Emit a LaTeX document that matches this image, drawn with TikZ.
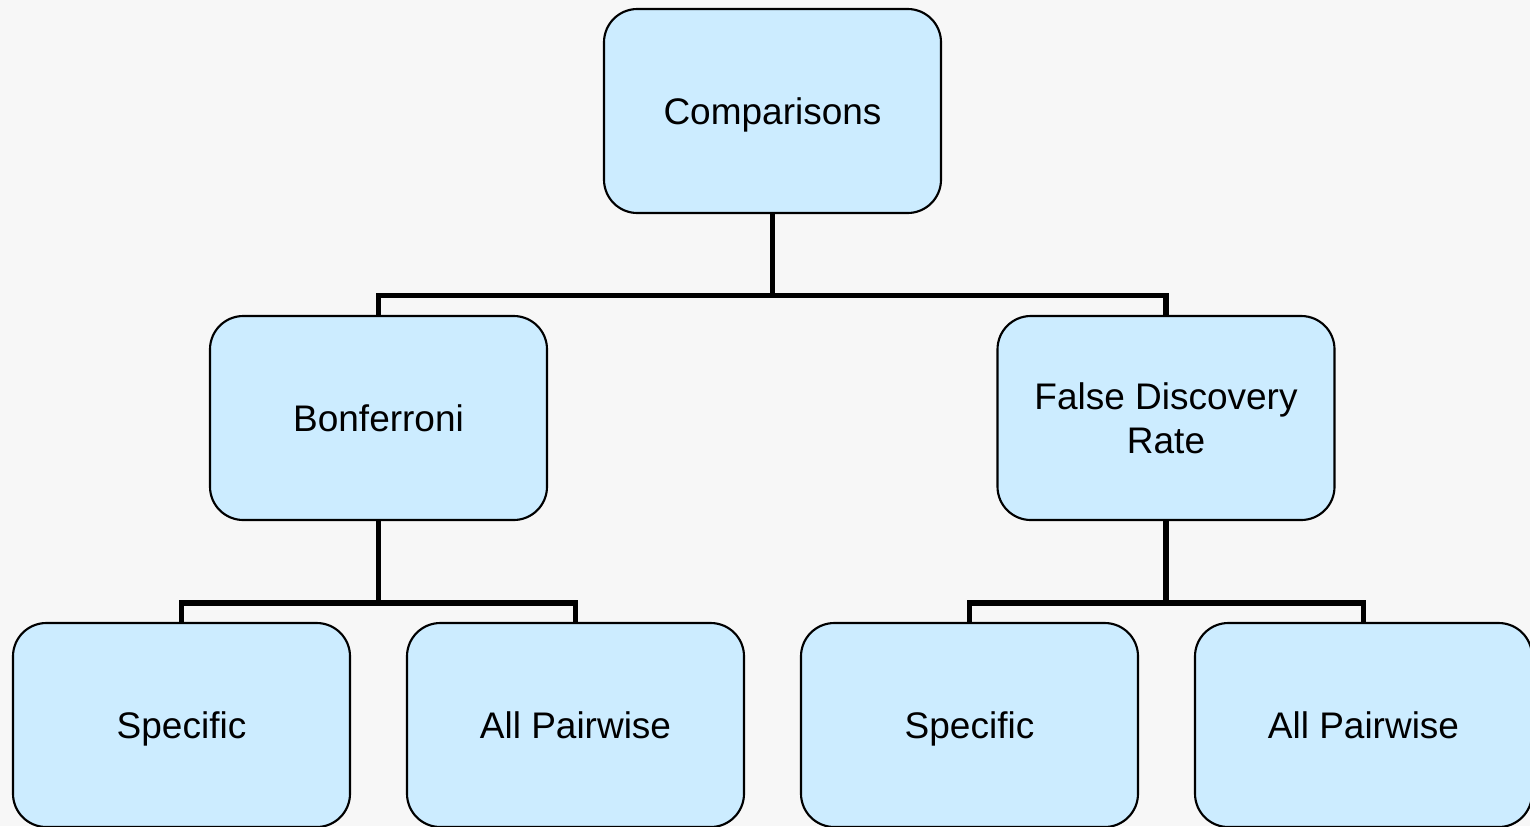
\documentclass[tikz,border=0pt]{standalone}
\usepackage{fontspec}
\setmainfont{Liberation Sans}
\definecolor{pagebg}{HTML}{F7F7F7}
\definecolor{boxfill}{HTML}{CCECFF}
\begin{document}
\begin{tikzpicture}[x=0.75pt,y=-0.75pt,
  box/.style={draw=black, line width=1.6pt, fill=boxfill, rounded corners=25pt,
    minimum width=252.75pt, minimum height=153pt, inner sep=0pt, align=center,
    font=\fontsize{27.75}{33}\selectfont},
  oneline/.style={box, text height=19.9pt, text depth=0pt},
  conn/.style={draw=black, line width=4pt, line join=miter}]
  % page background and fixed bounds
  \fill[pagebg] (0,0) rectangle (1530,826);
  \useasboundingbox (0,0) rectangle (1530,826);

  % junction points of the tree connectors
  \coordinate (j0) at (772.5,295.5);
  \coordinate (j1) at (378.5,603);
  \coordinate (j2) at (1166,603);

  % connectors (drawn first, boxes cover their ends)
  \path[conn] (772.5,111) -- (j0);
  \path[conn] (378.5,418) |- (j0) -| (1166,418);
  \path[conn] (378.5,418) -- (j1);
  \path[conn] (181.5,725) |- (j1) -| (575.5,725);
  \path[conn] (1166,418) -- (j2);
  \path[conn] (969.5,725) |- (j2) -| (1363.5,725);

  % boxes
  \node[oneline] (top) at (772.5,111) {Comparisons};
  \node[oneline] (bon) at (378.5,418) {Bonferroni};
  \node[box]     (fdr) at (1166,418) {False Discovery\\Rate};
  \node[oneline] (bs)  at (181.5,725) {Specific};
  \node[oneline] (bp)  at (575.5,725) {All Pairwise};
  \node[oneline] (fs)  at (969.5,725) {Specific};
  \node[oneline] (fp)  at (1363.5,725) {All Pairwise};
\end{tikzpicture}
\end{document}
